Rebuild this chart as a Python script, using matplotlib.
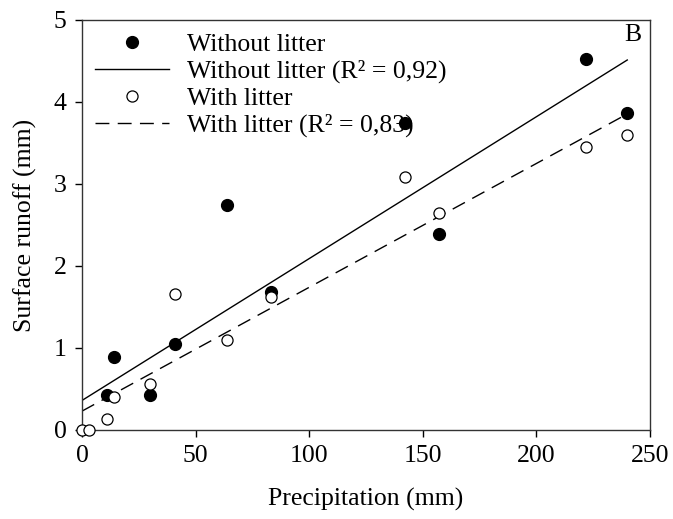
import numpy as np
import matplotlib
matplotlib.use("Agg")
import matplotlib.pyplot as plt

# valores
precip = [11, 14, 30, 41, 64, 83, 142, 157, 222, 240]
runoff_no_litter = [0.43, 0.89, 0.43, 1.05, 2.74, 1.68, 3.74, 2.39, 4.52, 3.86]

precip_litter = [0, 3, 11, 14, 30, 41, 64, 83, 142, 157, 222, 240]
runoff_litter = [0, 0, 0.13, 0.40, 0.56, 1.66, 1.10, 1.62, 3.08, 2.65, 3.45, 3.60]

# retas de regressão (intercepto, inclinação)
fit_no_litter = (0.36, 0.0173)
fit_litter = (0.23, 0.0151)
fit_range = [0, 240]

labels = ["Without litter", "Without litter (R² = 0,92)",
          "With litter", "With litter (R² = 0,83)"]

plt.rcParams["font.family"] = ["Liberation Serif", "DejaVu Serif"]
plt.rcParams["font.size"] = 18.5

fig = plt.figure(figsize=(6.73, 5.19), dpi=100)
ax = fig.add_axes([0.1218, 0.1715, 0.844, 0.79])

xs = np.array(fit_range)
p1, = ax.plot(precip, runoff_no_litter, "o", color="black", ms=8.5, zorder=3)
l1, = ax.plot(xs, fit_no_litter[0] + fit_no_litter[1] * xs, color="black", lw=1)
p2, = ax.plot(precip_litter, runoff_litter, "o", mfc="white", mec="black",
              mew=0.9, ms=8, zorder=3, clip_on=False)
l2, = ax.plot(xs, fit_litter[0] + fit_litter[1] * xs, color="black", lw=1,
              dashes=(10, 6))

ax.set_xlim(0, 250)
ax.set_ylim(0, 5)
ax.set_xticks([0, 50, 100, 150, 200, 250])
ax.set_yticks([0, 1, 2, 3, 4, 5])
ax.tick_params(direction="out", length=5, width=1, pad=6)
for s in ax.spines.values():
    s.set_linewidth(1)
    s.set_color("#333333")

ax.set_xlabel("Precipitation (mm)", labelpad=15)
ax.set_ylabel("Surface runoff (mm)", labelpad=12)

ax.legend([p1, l1, p2, l2], labels, loc="upper left", frameon=False,
          handlelength=2.9, handletextpad=0.7, labelspacing=0.15,
          borderaxespad=0.1, bbox_to_anchor=(0.0, 1.0))
ax.text(0.985, 0.99, "B", transform=ax.transAxes, ha="right", va="top")

fig.savefig("out.png", dpi=100)
